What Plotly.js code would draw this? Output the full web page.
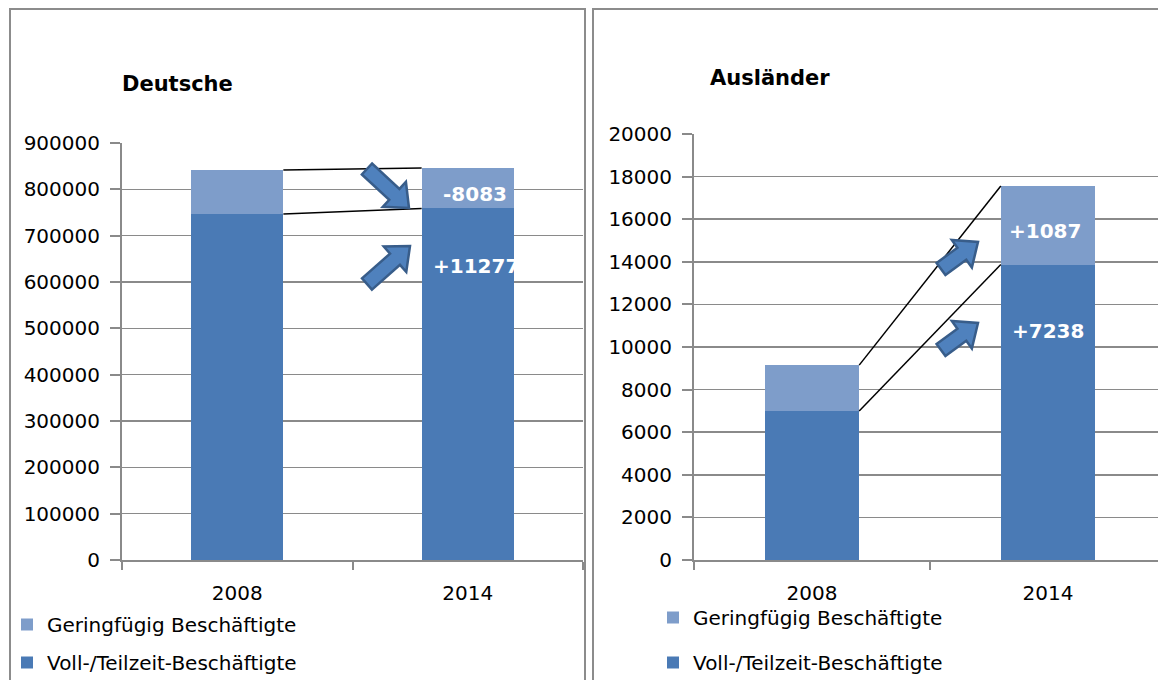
<!DOCTYPE html>
<html>
<head>
<meta charset="utf-8">
<script src="https://cdn.plot.ly/plotly-3.0.1.min.js"></script>
<style>
  html, body { margin: 0; padding: 0; background: #fff; }
  #chart { width: 1158px; height: 680px; }
</style>
</head>
<body>
<div id="chart"></div>
<script>
// ---------------- data ----------------
const categories = ['2008', '2014'];
const seriesNames = ['Voll-/Teilzeit-Beschäftigte', 'Geringfügig Beschäftigte'];
const panelTitles = ['Deutsche', 'Ausländer'];

const deVoll   = [746700, 758700];
const deGering = [95000, 87300];
const auVoll   = [7000, 13870];
const auGering = [2150, 3690];

const deChangeLabels = ['-8083', '+11277'];   // [geringfügig, voll/teilzeit]
const auChangeLabels = ['+1087', '+7238'];

// ---------------- style ----------------
const W = 1158, H = 680;
const DARK = '#4A7AB5';
const LIGHT = '#7E9DCA';
const GRID = '#8A8A8A';
const FONT = 'DejaVu Sans';
const px = x => x / W;
const py = y => 1 - y / H;

function sum(a, b) { return a.map((v, i) => v + b[i]); }
const deTotal = sum(deVoll, deGering);
const auTotal = sum(auVoll, auGering);

function barTrace(y, name, color, xa, ya, leg, grp, rank) {
  return {
    type: 'bar', x: categories, y: y, name: name, width: 0.4,
    marker: { color: color, line: { width: 0 } },
    xaxis: xa, yaxis: ya, legend: leg, legendgroup: grp, legendrank: rank,
    hoverinfo: 'skip'
  };
}

const data = [
  barTrace(deVoll, seriesNames[0], DARK, 'x', 'y', 'legend', 'a1', 2),
  barTrace(deGering, seriesNames[1], LIGHT, 'x', 'y', 'legend', 'a2', 1),
  barTrace(auVoll, seriesNames[0], DARK, 'x2', 'y2', 'legend2', 'b1', 2),
  barTrace(auGering, seriesNames[1], LIGHT, 'x2', 'y2', 'legend2', 'b2', 1)
];

function xAxis(domain, range, anchor) {
  return {
    domain: domain, type: 'category', range: range, anchor: anchor,
    tickson: 'boundaries', ticks: 'outside', ticklen: 8, tickwidth: 2, tickcolor: GRID,
    showline: true, linecolor: GRID, linewidth: 2, showgrid: false, zeroline: false,
    tickfont: { family: FONT, size: 20, color: '#000' }, ticklabelstandoff: 14,
    fixedrange: true, automargin: false
  };
}
function yAxis(domain, range, dtick, anchor) {
  return {
    domain: domain, range: range, dtick: dtick, tickformat: 'd', anchor: anchor,
    ticks: 'outside', ticklen: 10, tickwidth: 2, tickcolor: GRID,
    showline: true, linecolor: GRID, linewidth: 2,
    showgrid: true, gridcolor: GRID, gridwidth: 1.5, zeroline: false,
    tickfont: { family: FONT, size: 20, color: '#000' }, ticklabelstandoff: 6,
    fixedrange: true, automargin: false
  };
}

// block arrow (decorative) from tail to tip, in pixels -> paper path
function arrowPath(tail, tip, sw, hw, hl) {
  const dx = tip[0] - tail[0], dy = tip[1] - tail[1];
  const L = Math.hypot(dx, dy);
  const ux = dx / L, uy = dy / L, nx = -uy, ny = ux;
  const bx = tip[0] - ux * hl, by = tip[1] - uy * hl;
  const pts = [
    [tail[0] + nx * sw / 2, tail[1] + ny * sw / 2],
    [bx + nx * sw / 2, by + ny * sw / 2],
    [bx + nx * hw / 2, by + ny * hw / 2],
    [tip[0], tip[1]],
    [bx - nx * hw / 2, by - ny * hw / 2],
    [bx - nx * sw / 2, by - ny * sw / 2],
    [tail[0] - nx * sw / 2, tail[1] - ny * sw / 2]
  ];
  return 'M' + pts.map(p => px(p[0]).toFixed(5) + ',' + py(p[1]).toFixed(5)).join(' L') + ' Z';
}
function arrowShape(tail, tip) {
  return {
    type: 'path', xref: 'paper', yref: 'paper', path: arrowPath(tail, tip, 15, 34, 20),
    fillcolor: '#4F81BD', line: { color: '#385D8A', width: 2.5 }, layer: 'above'
  };
}

function connector(xa, ya, y0, y1) {
  return { type: 'line', xref: xa, yref: ya, x0: 0.2, x1: 0.8, y0: y0, y1: y1,
           line: { color: '#000', width: 1.5 }, layer: 'above' };
}

const shapes = [
  // panel frames
  { type: 'rect', xref: 'paper', yref: 'paper', x0: px(10), x1: px(585), y0: py(700), y1: py(9),
    line: { color: '#8C8C8C', width: 2 }, fillcolor: 'rgba(0,0,0,0)', layer: 'below' },
  { type: 'rect', xref: 'paper', yref: 'paper', x0: px(593), x1: px(1175), y0: py(700), y1: py(9),
    line: { color: '#8C8C8C', width: 2 }, fillcolor: 'rgba(0,0,0,0)', layer: 'below' },
  // connectors
  connector('x', 'y', deTotal[0], deTotal[1]),
  connector('x', 'y', deVoll[0], deVoll[1]),
  connector('x2', 'y2', auTotal[0], auTotal[1]),
  connector('x2', 'y2', auVoll[0], auVoll[1]),
  // arrows
  arrowShape([367, 169], [409, 208]),
  arrowShape([367, 284], [410, 246]),
  arrowShape([941, 269], [978, 242]),
  arrowShape([941, 350], [978, 323])
];

function valueLabel(text, xa, ya, y, xshift, yshift) {
  return { text: '<b>' + text + '</b>', xref: xa, yref: ya, x: 1, y: y, xshift: xshift, yshift: yshift,
           showarrow: false, xanchor: 'center', yanchor: 'middle',
           font: { family: FONT, size: 20, color: '#fff' } };
}
function titleAnn(text, x, y) {
  return { text: '<b>' + text + '</b>', xref: 'paper', yref: 'paper', x: px(x), y: py(y),
           xanchor: 'left', yanchor: 'middle', showarrow: false,
           font: { family: FONT, size: 21, color: '#000' } };
}

const annotations = [
  titleAnn(panelTitles[0], 120, 84),
  titleAnn(panelTitles[1], 708, 78),
  valueLabel(deChangeLabels[0], 'x', 'y', (deVoll[1] + deTotal[1]) / 2, 7, -6),
  valueLabel(deChangeLabels[1], 'x', 'y', deVoll[1], 8, -58),
  valueLabel(auChangeLabels[0], 'x2', 'y2', (auVoll[1] + auTotal[1]) / 2, -3, -6),
  valueLabel(auChangeLabels[1], 'x2', 'y2', auVoll[1], 0, -66)
];

const legendCommon = {
  xanchor: 'left', yanchor: 'top', traceorder: 'grouped',
  bgcolor: 'rgba(0,0,0,0)', borderwidth: 0,
  font: { family: FONT, size: 20, color: '#000' }
};

const layout = {
  width: W, height: H,
  margin: { l: 0, r: 0, t: 0, b: 0, autoexpand: false },
  paper_bgcolor: '#fff', plot_bgcolor: 'rgba(0,0,0,0)',
  barmode: 'stack', hovermode: false, dragmode: false,
  xaxis: xAxis([px(122), px(583)], [-0.5, 1.5], 'y'),
  yaxis: yAxis([py(560), py(143)], [0, 900000], 100000, 'x'),
  xaxis2: xAxis([px(694), 1], [-0.5, -0.5 + (W - 694) / 236], 'y2'),
  yaxis2: yAxis([py(560), py(134)], [0, 20000], 2000, 'x2'),
  legend: Object.assign({ x: px(7), y: py(605), tracegroupgap: 9 }, legendCommon),
  legend2: Object.assign({ x: px(653), y: py(598), tracegroupgap: 16 }, legendCommon),
  shapes: shapes,
  annotations: annotations
};

Plotly.newPlot('chart', data, layout, { displayModeBar: false, staticPlot: true });
</script>
</body>
</html>
